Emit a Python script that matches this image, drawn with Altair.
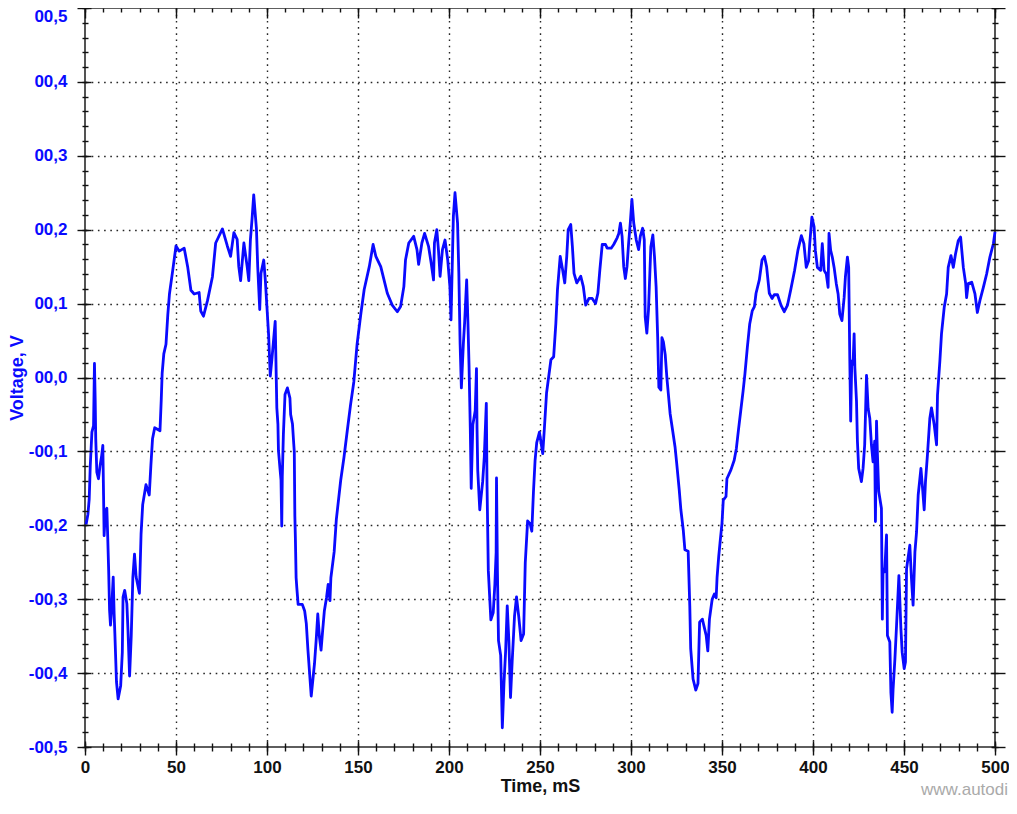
import altair as alt
import pandas as pd

# ---- data ----
TIME_MS = [
    0.6, 1.6, 2.3, 2.9, 3.8, 4.7, 5.2, 5.6, 5.9, 6.5,
    7.4, 8.3, 9.2, 9.8, 10.2, 10.5, 11.2, 12.0, 12.5, 13.0,
    13.5, 14.0, 14.6, 15.5, 16.0, 16.4, 17.3, 18.2, 19.6, 20.5,
    20.9, 21.8, 23.0, 23.6, 24.5, 25.4, 26.3, 27.2, 28.1, 29.9,
    30.8, 31.7, 33.5, 35.3, 36.2, 37.1, 38.3, 41.2, 41.9, 42.4,
    43.3, 44.5, 45.5, 46.4, 48.2, 50.0, 51.8, 54.5, 56.4, 58.2,
    60.0, 62.7, 63.6, 65.1, 67.3, 70.0, 71.8, 75.5, 78.2, 80.0,
    81.8, 83.6, 84.5, 85.5, 87.3, 89.1, 90.0, 90.9, 91.8, 92.7,
    94.2, 94.9, 96.0, 96.7, 98.2, 99.1, 100.0, 100.9, 101.8, 102.7,
    104.5, 105.4, 106.0, 106.3, 107.2, 107.7, 108.1, 108.4, 109.0, 109.9,
    111.2, 112.6, 113.0, 114.0, 114.7, 115.0, 115.3, 115.6, 116.0, 116.4,
    117.1, 119.4, 120.7, 121.6, 122.5, 123.4, 124.3, 125.2, 126.1, 127.0,
    127.9, 128.8, 129.7, 130.6, 131.5, 132.7, 133.6, 134.6, 135.1, 136.9,
    138.1, 140.5, 142.3, 144.1, 145.9, 147.7, 149.5, 151.6, 153.4, 156.2,
    158.3, 159.8, 162.5, 164.3, 166.1, 168.8, 171.6, 173.4, 175.2, 176.1,
    177.9, 180.6, 182.4, 183.3, 185.1, 186.6, 188.8, 190.2, 191.5, 192.0,
    193.3, 194.2, 195.1, 196.4, 197.8, 199.3, 200.5, 201.1, 202.4, 203.3,
    204.7, 205.4, 206.1, 206.8, 207.9, 208.6, 209.7, 210.4, 211.0, 211.7,
    212.2, 213.1, 214.4, 215.1, 215.4, 215.8, 216.9, 218.5, 219.4, 220.5,
    220.9, 221.6, 223.0, 224.3, 225.2, 225.9, 226.1, 226.6, 227.2, 228.4,
    229.3, 230.2, 231.1, 232.0, 232.9, 233.8, 234.7, 236.0, 237.1, 238.3,
    239.6, 241.0, 241.9, 243.2, 244.6, 245.5, 246.4, 247.3, 248.2, 249.7,
    251.5, 252.4, 253.6, 256.0, 257.5, 258.7, 259.6, 261.1, 262.4, 263.6,
    264.7, 265.5, 266.9, 267.8, 268.7, 270.2, 272.4, 273.8, 275.1, 276.9,
    278.7, 280.5, 281.8, 282.9, 284.2, 286.0, 286.9, 289.1, 290.5, 292.4,
    293.3, 294.2, 295.1, 296.0, 296.9, 297.8, 298.7, 299.6, 300.5, 301.5,
    302.9, 304.2, 305.1, 306.4, 307.3, 307.8, 308.7, 309.6, 310.9, 312.0,
    312.9, 313.8, 314.7, 315.3, 316.4, 317.0, 317.8, 318.8, 319.7, 321.5,
    322.9, 324.2, 325.1, 326.5, 327.4, 328.7, 329.6, 331.4, 332.3, 332.8,
    334.1, 335.6, 336.8, 337.7, 339.2, 341.3, 342.2, 343.1, 344.6, 345.8,
    346.8, 347.3, 348.2, 348.9, 350.0, 350.7, 352.2, 352.7, 354.9, 356.7,
    357.9, 359.0, 360.3, 361.6, 362.6, 363.9, 365.2, 366.6, 367.8, 368.7,
    370.5, 372.0, 373.3, 374.5, 376.0, 377.5, 378.7, 380.5, 382.4, 384.2,
    386.0, 387.8, 389.9, 391.7, 393.6, 395.0, 396.3, 397.6, 398.2, 399.4,
    400.6, 401.3, 402.4, 404.2, 405.1, 406.1, 407.3, 408.3, 408.8, 409.7,
    410.6, 411.6, 412.8, 413.8, 414.7, 415.9, 417.1, 417.8, 418.9, 419.6,
    420.2, 420.7, 421.3, 422.0, 422.6, 423.0, 423.9, 424.4, 425.1, 426.6,
    427.5, 428.4, 429.4, 430.3, 431.2, 432.1, 433.0, 433.9, 434.3, 434.9,
    435.4, 436.1, 437.6, 438.1, 438.5, 439.4, 440.4, 440.9, 442.2, 442.8,
    443.5, 444.0, 445.0, 445.9, 447.2, 448.3, 449.0, 450.1, 450.8, 451.4,
    453.2, 454.1, 455.0, 456.0, 456.9, 457.8, 459.3, 460.2, 461.1, 461.8,
    462.9, 464.2, 465.1, 466.6, 467.9, 468.4, 469.7, 470.6, 472.1, 473.4,
    474.3, 475.8, 477.1, 478.3, 479.8, 481.1, 482.6, 483.9, 484.4, 485.3,
    487.2, 489.0, 490.3, 491.7, 493.6, 495.4, 497.2, 499.1, 500.0,
]

VOLTAGE_V = [
    -0.199, -0.185, -0.165, -0.119, -0.074, -0.065, 0.019, -0.030, -0.083, -0.128,
    -0.137, -0.119, -0.105, -0.092, -0.160, -0.214, -0.181, -0.177, -0.217, -0.261,
    -0.315, -0.335, -0.315, -0.270, -0.319, -0.346, -0.412, -0.435, -0.417, -0.372,
    -0.297, -0.288, -0.306, -0.341, -0.404, -0.350, -0.270, -0.239, -0.270, -0.292,
    -0.212, -0.172, -0.145, -0.159, -0.119, -0.083, -0.068, -0.072, -0.030, 0.006,
    0.032, 0.045, 0.085, 0.113, 0.145, 0.178, 0.171, 0.175, 0.150, 0.118,
    0.113, 0.115, 0.090, 0.083, 0.104, 0.136, 0.182, 0.201, 0.178, 0.164,
    0.196, 0.187, 0.150, 0.131, 0.182, 0.150, 0.131, 0.187, 0.215, 0.247,
    0.201, 0.150, 0.092, 0.141, 0.159, 0.131, 0.094, 0.057, 0.002, 0.025,
    0.076, -0.041, -0.063, -0.099, -0.125, -0.139, -0.201, -0.134, -0.077, -0.023,
    -0.014, -0.028, -0.050, -0.063, -0.090, -0.101, -0.187, -0.218, -0.271, -0.285,
    -0.307, -0.307, -0.316, -0.333, -0.369, -0.400, -0.431, -0.409, -0.387, -0.356,
    -0.320, -0.351, -0.369, -0.342, -0.316, -0.298, -0.280, -0.302, -0.271, -0.236,
    -0.192, -0.139, -0.108, -0.072, -0.037, -0.006, 0.045, 0.087, 0.119, 0.150,
    0.180, 0.164, 0.150, 0.132, 0.114, 0.098, 0.089, 0.096, 0.123, 0.159,
    0.182, 0.191, 0.173, 0.153, 0.182, 0.195, 0.177, 0.155, 0.132, 0.182,
    0.200, 0.173, 0.137, 0.173, 0.186, 0.159, 0.123, 0.078, 0.218, 0.250,
    0.209, 0.142, 0.046, -0.014, 0.046, 0.075, 0.132, 0.075, 0.017, -0.069,
    -0.150, -0.064, -0.045, 0.012, -0.069, -0.126, -0.179, -0.141, -0.107, -0.035,
    -0.146, -0.261, -0.328, -0.318, -0.280, -0.237, -0.136, -0.261, -0.356, -0.376,
    -0.474, -0.414, -0.371, -0.309, -0.356, -0.433, -0.385, -0.323, -0.297, -0.323,
    -0.356, -0.347, -0.251, -0.194, -0.198, -0.208, -0.155, -0.112, -0.088, -0.074,
    -0.103, -0.069, -0.021, 0.024, 0.028, 0.073, 0.119, 0.164, 0.146, 0.128,
    0.164, 0.200, 0.207, 0.177, 0.141, 0.128, 0.137, 0.123, 0.098, 0.107,
    0.107, 0.100, 0.114, 0.146, 0.180, 0.180, 0.175, 0.175, 0.180, 0.189,
    0.195, 0.209, 0.191, 0.150, 0.134, 0.150, 0.182, 0.209, 0.241, 0.209,
    0.186, 0.173, 0.191, 0.202, 0.186, 0.082, 0.060, 0.091, 0.177, 0.193,
    0.164, 0.123, 0.051, -0.013, -0.017, 0.054, 0.048, 0.031, 0.000, -0.049,
    -0.072, -0.094, -0.116, -0.152, -0.179, -0.206, -0.233, -0.235, -0.309, -0.367,
    -0.408, -0.423, -0.414, -0.331, -0.327, -0.349, -0.370, -0.327, -0.300, -0.293,
    -0.298, -0.270, -0.242, -0.224, -0.197, -0.166, -0.161, -0.137, -0.125, -0.112,
    -0.096, -0.072, -0.045, -0.018, 0.005, 0.040, 0.072, 0.090, 0.096, 0.114,
    0.132, 0.159, 0.164, 0.150, 0.114, 0.107, 0.112, 0.112, 0.098, 0.089,
    0.098, 0.119, 0.145, 0.172, 0.192, 0.181, 0.149, 0.158, 0.181, 0.217,
    0.204, 0.172, 0.149, 0.145, 0.181, 0.145, 0.140, 0.122, 0.195, 0.172,
    0.163, 0.149, 0.127, 0.113, 0.086, 0.077, 0.108, 0.136, 0.163, 0.149,
    0.027, -0.059, 0.022, 0.018, 0.059, 0.013, -0.032, -0.086, -0.123, -0.141,
    -0.123, -0.091, 0.003, -0.042, -0.055, -0.091, -0.114, -0.086, -0.195, -0.059,
    -0.104, -0.154, -0.177, -0.327, -0.259, -0.263, -0.213, -0.349, -0.358, -0.426,
    -0.453, -0.422, -0.381, -0.336, -0.268, -0.340, -0.372, -0.394, -0.385, -0.259,
    -0.227, -0.272, -0.308, -0.236, -0.209, -0.159, -0.123, -0.150, -0.179, -0.141,
    -0.104, -0.055, -0.041, -0.064, -0.091, -0.024, 0.022, 0.059, 0.095, 0.113,
    0.149, 0.165, 0.149, 0.167, 0.185, 0.190, 0.149, 0.127, 0.108, 0.127,
    0.129, 0.113, 0.088, 0.104, 0.122, 0.140, 0.163, 0.181, 0.197,
]

X_MAJOR = [0, 50, 100, 150, 200, 250, 300, 350, 400, 450, 500]
X_MINOR = [t for t in range(0, 501, 10)]
Y_MAJOR = [-0.5, -0.4, -0.3, -0.2, -0.1, 0.0, 0.1, 0.2, 0.3, 0.4, 0.5]
Y_MINOR = [round(-0.5 + 0.02 * i, 2) for i in range(51)]

X_TITLE = "Time, mS"
Y_TITLE = "Voltage, V"
WATERMARK = "www.autodi"

FONT = "Liberation Sans"
BLUE = "#0a0aff"
INK = "#111111"
LABEL_SIZE = 17
TITLE_SIZE = 18
Y_LABEL_EXPR = "(datum.value < -0.001 ? '-' : '') + '00,' + round(abs(datum.value) * 10)"

df = pd.DataFrame({"t": TIME_MS, "v": VOLTAGE_V})

xs = alt.Scale(domain=[0, 500], nice=False, zero=False)
ys = alt.Scale(domain=[-0.5, 0.5], nice=False, zero=False)

base = alt.Chart(df)


def guide_layer(xaxis, yaxis):
    return base.mark_line(opacity=0).encode(
        x=alt.X("t:Q", scale=xs, axis=xaxis),
        y=alt.Y("v:Q", scale=ys, axis=yaxis),
    )


def tick_axis(orient, values, size, offset, color=INK):
    return alt.Axis(
        orient=orient, values=values, tickSize=size, offset=offset,
        tickColor=color, tickWidth=1.4, labels=False, domain=False,
        grid=False, title=None, zindex=2,
    )


def y_label_axis(values, baseline, title):
    kw = dict(
        orient="left", values=values, labelExpr=Y_LABEL_EXPR,
        labelFont=FONT, labelFontSize=LABEL_SIZE, labelFontWeight="bold",
        labelColor=BLUE, labelFlush=False, labelOverlap=False, labelPadding=10,
        labelBaseline=baseline,
        tickSize=14, tickColor=INK, tickWidth=1.4, offset=-6, domain=False,
        grid=False, zindex=2,
    )
    if title:
        kw.update(title=title, titleFont=FONT, titleFontSize=TITLE_SIZE,
                  titleFontWeight="bold", titleColor=BLUE, titlePadding=2)
    else:
        kw.update(title=None)
    return alt.Axis(**kw)


grid = guide_layer(
    alt.Axis(orient="bottom", values=X_MAJOR[1:-1], grid=True, gridColor="#000000",
             gridDash=[1.6, 4.6], gridWidth=1.4, gridOpacity=0.85, ticks=False,
             labels=False, domain=False, title=None, zindex=0),
    alt.Axis(orient="left", values=Y_MAJOR[1:-1], grid=True, gridColor="#000000",
             gridDash=[1.6, 4.6], gridWidth=1.4, gridOpacity=0.85, ticks=False,
             labels=False, domain=False, title=None, zindex=0),
)

line = base.mark_line(color=BLUE, strokeWidth=2.8, strokeJoin="round").encode(
    x=alt.X("t:Q", scale=xs, axis=alt.Axis(
        orient="bottom", values=X_MAJOR, format="d", labelFont=FONT,
        labelFontSize=LABEL_SIZE, labelFontWeight="bold", labelColor=INK,
        labelFlush=False, labelOverlap=False, labelPadding=4,
        tickSize=14, tickColor=INK, tickWidth=1.4, offset=-6, domain=False,
        grid=False, title=X_TITLE, titleFont=FONT, titleFontSize=TITLE_SIZE,
        titleFontWeight="bold", titleColor=INK, titlePadding=2, zindex=2)),
    y=alt.Y("v:Q", scale=ys, axis=y_label_axis(Y_MAJOR[:-1], "middle", Y_TITLE)),
)

top_label = guide_layer(None, y_label_axis(Y_MAJOR[-1:], "top", None))
minor_bl = guide_layer(tick_axis("bottom", X_MINOR, 8, -4),
                       tick_axis("left", Y_MINOR, 6, -3))
right_major = guide_layer(None, tick_axis("right", Y_MAJOR, 14, -4))
right_minor = guide_layer(None, tick_axis("right", Y_MINOR, 6, -3))
top_major = guide_layer(tick_axis("top", X_MAJOR, 10, -10), None)
top_minor = guide_layer(tick_axis("top", X_MINOR, 4, -4), None)

watermark = alt.Chart(pd.DataFrame({"label": [WATERMARK]})).mark_text(
    align="right", baseline="middle", font=FONT, fontSize=17, color="#aaaaaa"
).encode(text="label:N", x=alt.value(923), y=alt.value(782))

chart = alt.layer(
    grid, line, top_label, minor_bl, right_major, right_minor,
    top_major, top_minor, watermark
).resolve_axis(
    x="independent", y="independent"
).properties(
    width=910, height=739,
    autosize=alt.AutoSizeParams(type="none"),
    padding={"left": 77, "top": 0, "right": 14, "bottom": 54},
    background="white",
).configure_view(
    stroke="#2a2a2a", strokeWidth=1.6
)

chart.save("out.html", embed_options={"renderer": "svg", "actions": False})
